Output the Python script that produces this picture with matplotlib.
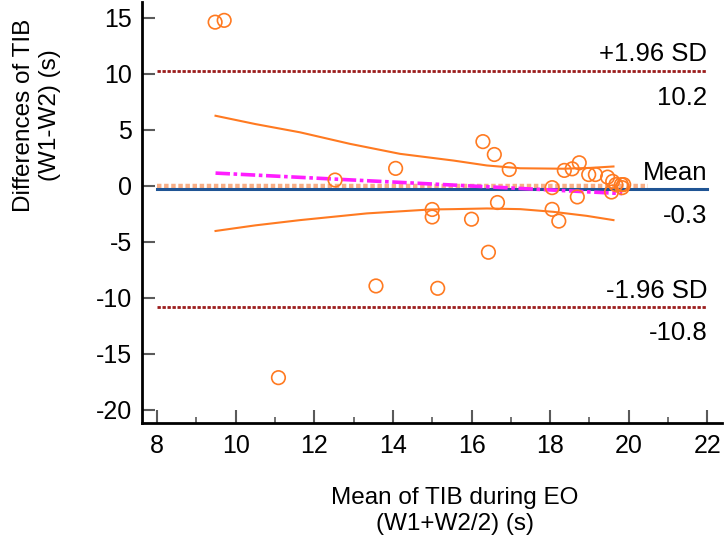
import matplotlib
matplotlib.use("Agg")
import matplotlib.pyplot as plt
import numpy as np
from matplotlib.ticker import MultipleLocator

plt.rcParams['font.family'] = ['Liberation Sans', 'DejaVu Sans']
plt.rcParams['axes.unicode_minus'] = False

# Scatter points (mean of W1/W2, difference W1-W2)
mean_vals = [9.48, 9.71, 12.53, 14.07, 15.0, 15.0, 13.57, 15.14, 11.09, 16.43,
             16.29, 16.58, 16.96, 18.36, 18.56, 18.74, 18.98, 19.15, 19.46, 19.59,
             19.67, 19.81, 19.87, 19.83, 19.56, 18.05, 18.69, 16.66, 16.0, 18.05,
             18.22]
diff_vals = [14.6, 14.76, 0.5, 1.54, -2.13, -2.8, -8.96, -9.17, -17.15, -5.95,
             3.93, 2.78, 1.44, 1.36, 1.50, 2.04, 0.99, 0.99, 0.76, 0.38,
             0.09, 0.09, 0.09, -0.18, -0.57, -0.18, -1.01, -1.51, -3.0, -2.12,
             -3.17]

# Agreement statistics
mean_diff = -0.3
upper_loa = 10.2
lower_loa = -10.8

# Regression line endpoints
reg_x = [9.49, 19.83]
reg_y = [1.12, -0.71]

# Confidence curves of regression
ci_up_x = [9.49, 10.5, 11.64, 12.91, 14.18, 15.54, 16.39, 17.24, 18.34, 19.0, 19.61]
ci_up_y = [6.24, 5.5, 4.76, 3.73, 2.84, 2.24, 1.80, 1.55, 1.51, 1.58, 1.71]
ci_lo_x = [9.49, 10.5, 11.64, 13.34, 14.95, 15.54, 16.39, 17.24, 18.08, 18.93, 19.61]
ci_lo_y = [-4.05, -3.55, -3.08, -2.48, -2.13, -2.10, -2.04, -2.10, -2.34, -2.70, -3.08]

x_ticks = [8, 10, 12, 14, 16, 18, 20, 22]
y_ticks = [-20, -15, -10, -5, 0, 5, 10, 15]

W, H = 724, 547
fig = plt.figure(figsize=(W / 100, H / 100), dpi=100)
ax = fig.add_axes([142 / W, 1 - 423 / H, (722 - 142) / W, (423 - 2) / H])

ax.set_xlim(7.62, 22.37)
ax.set_ylim(-21.2, 16.4)

orange = '#FF7A21'

# zero line
ax.plot([8, 20.5], [0, 0], color='#F8AE86', lw=3.2, linestyle=(0, (1, 0.6)), zorder=2)
# mean line
ax.plot([8, 22], [mean_diff, mean_diff], color='#1F5494', lw=2.2, zorder=3)
# limits of agreement
for v in (upper_loa, lower_loa):
    ax.plot([8, 22], [v, v], color='#9B1C1C', lw=2.0, linestyle=(0, (1.2, 0.6)), zorder=3)

# regression line
ax.plot(reg_x, reg_y, color='#FF1EFF', lw=2.6, linestyle=(0, (4, 1, 1, 1)), zorder=4)
# CI curves
ax.plot(ci_up_x, ci_up_y, color=orange, lw=1.5, zorder=4)
ax.plot(ci_lo_x, ci_lo_y, color=orange, lw=1.5, zorder=4)

ax.scatter(mean_vals, diff_vals, s=95, facecolors='none', edgecolors=orange,
           linewidths=1.2, zorder=5)

# labels at right
fs_ann = 18.5
ax.text(22, 11.12, '+1.96 SD', ha='right', va='baseline', fontsize=fs_ann)
ax.text(22, 8.9, f'{upper_loa:.1f}', ha='right', va='top', fontsize=fs_ann)
ax.text(22, 0.47, 'Mean', ha='right', va='baseline', fontsize=fs_ann)
ax.text(22, -1.66, f'{mean_diff:.1f}', ha='right', va='top', fontsize=fs_ann)
ax.text(22, -10.03, '-1.96 SD', ha='right', va='baseline', fontsize=fs_ann)
ax.text(22, -12.1, f'{lower_loa:.1f}', ha='right', va='top', fontsize=fs_ann)

# axes styling
for s in ('top', 'right'):
    ax.spines[s].set_visible(False)
for s in ('left', 'bottom'):
    ax.spines[s].set_linewidth(2.0)
    ax.spines[s].set_color('black')

ax.set_xticks(x_ticks)
ax.set_yticks(y_ticks)
ax.xaxis.set_minor_locator(MultipleLocator(1))
ax.tick_params(axis='both', which='major', direction='in', length=9.5, width=1.5,
               color='#5a5a5a', labelsize=18, pad=8)
ax.tick_params(axis='x', which='minor', direction='in', length=4, width=1.2, color='#5a5a5a')
ax.tick_params(axis='y', which='major', pad=7)

fig.text(37 / W, 1 - 115 / H, 'Differences of TIB\n(W1-W2) (s)', rotation=90,
         ha='center', va='center', fontsize=17.5, multialignment='center', linespacing=1.2)
fig.text(455 / W, 1 - 511 / H, 'Mean of TIB during EO\n(W1+W2/2) (s)',
         ha='center', va='center', fontsize=17.5, multialignment='center', linespacing=1.2)

fig.savefig('out.png', dpi=100)
